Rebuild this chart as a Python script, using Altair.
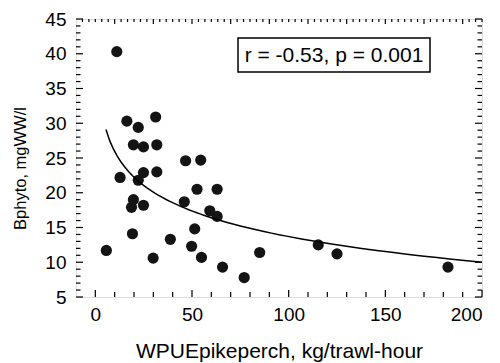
import altair as alt
import pandas as pd

# Data
x_vals = [11.1, 16.3, 22.2, 31.2, 19.7, 24.9, 31.8, 46.7, 54.5, 12.8,
          22.2, 24.9, 31.8, 52.6, 63.0, 46.0, 19.7, 18.7, 24.9, 59.2,
          63.0, 51.4, 19.2, 38.8, 5.7, 49.8, 85.0, 29.9, 54.9, 65.8,
          77.0, 115.3, 125.0, 182.4]
y_vals = [40.3, 30.3, 29.4, 30.9, 26.9, 26.6, 26.9, 24.6, 24.7, 22.2,
          21.8, 22.9, 23.0, 20.5, 20.5, 18.7, 19.0, 17.9, 18.2, 17.4,
          16.6, 14.8, 14.1, 13.3, 11.7, 12.3, 11.4, 10.6, 10.7, 9.3,
          7.8, 12.5, 11.2, 9.3]
x_tick_labels = [0, 50, 100, 150, 200]
y_tick_labels = [5, 10, 15, 20, 25, 30, 35, 40, 45]
annotation = ["r = -0.53, p = 0.001"]

W, H = 406, 278
FONT = "Liberation Sans"

df = pd.DataFrame({"x": x_vals, "y": y_vals})
xs = alt.Scale(domain=[-10, 200], nice=False, zero=False)
ys = alt.Scale(domain=[5, 45], nice=False, zero=False)

XT = "WPUEpikeperch, kg/trawl-hour"
YT = "Bphyto, mgWW/l"
xaxis = alt.Axis(values=x_tick_labels, ticks=False, domain=False, grid=False,
                 labelFontSize=19, titleFontSize=21, labelPadding=8,
                 titlePadding=16, titleFontWeight="normal",
                 labelColor="black", titleColor="black", labelFont=FONT, titleFont=FONT)
yaxis = alt.Axis(values=y_tick_labels, ticks=False, domain=False, grid=False,
                 labelFontSize=19, titleFontSize=16.5, labelPadding=10,
                 titleFontWeight="normal", titleX=-56, titleY=149,
                 titleAngle=-90, titleAlign="center", titleBaseline="middle",
                 labelColor="black", titleColor="black", labelFont=FONT, titleFont=FONT)

def X(f):
    return alt.X(f, scale=xs, title=XT, axis=xaxis)

def Y(f):
    return alt.Y(f, scale=ys, title=YT, axis=yaxis)

points = alt.Chart(df).mark_circle(size=125, color="#141414", opacity=1).encode(
    x=X("x:Q"), y=Y("y:Q"))

fit = alt.Chart(df).transform_regression(
    "x", "y", method="log", extent=[5.5, 200]
).mark_line(color="black", strokeWidth=1.5).encode(x=X("x:Q"), y=Y("y:Q"))

# tick positions
y_minor = [v for v in range(5, 46) if v % 5 != 0]
x_minor = [v for v in range(0, 201, 10) if v % 50 != 0]
top_all = [10 + k * 10 / 3 for k in range(-5, 58) if 10 + k * 10 / 3 <= 200]
top_major = [v for v in range(10, 201, 20)]
top_minor = [v for v in top_all if all(abs(v - m) > 0.5 for m in top_major)]

def yrules(vals, x1, x2):
    return alt.Chart(pd.DataFrame({"v": vals})).mark_rule(color="black", strokeWidth=1.2).encode(
        y=Y("v:Q"), x=alt.value(x1), x2=alt.value(x2))

def xrules(vals, y1, y2):
    return alt.Chart(pd.DataFrame({"v": vals})).mark_rule(color="black", strokeWidth=1.2).encode(
        x=X("v:Q"), y=alt.value(y1), y2=alt.value(y2))

ticks = [
    yrules(y_tick_labels, 0, 7), yrules(y_minor, 0, 4.5),
    yrules(y_tick_labels, W, W - 7), yrules(y_minor, W, W - 4.5),
    xrules(x_tick_labels, H, H - 7), xrules(x_minor, H, H - 5),
    xrules(top_major, 0, 5), xrules(top_minor, 0, 3),
]

ann_df = pd.DataFrame({"t": annotation})
box = alt.Chart(ann_df).mark_rect(fill="white", stroke="black", strokeWidth=1.5).encode(
    x=alt.value(162), x2=alt.value(354), y=alt.value(19), y2=alt.value(53))
label = alt.Chart(ann_df).mark_text(fontSize=21, font=FONT, color="black",
                                    align="center", baseline="middle").encode(
    x=alt.value(258), y=alt.value(37), text="t:N")

chart = alt.layer(points, fit, *ticks, box, label).properties(
    width=W, height=H,
    autosize=alt.AutoSizeParams(type="none"),
    padding={"left": 68, "top": 11, "right": 10, "bottom": 66},
).configure_view(stroke="black", strokeWidth=1.8).configure(background="white")

chart.save("out.html", embed_options={"renderer": "svg", "actions": False})
